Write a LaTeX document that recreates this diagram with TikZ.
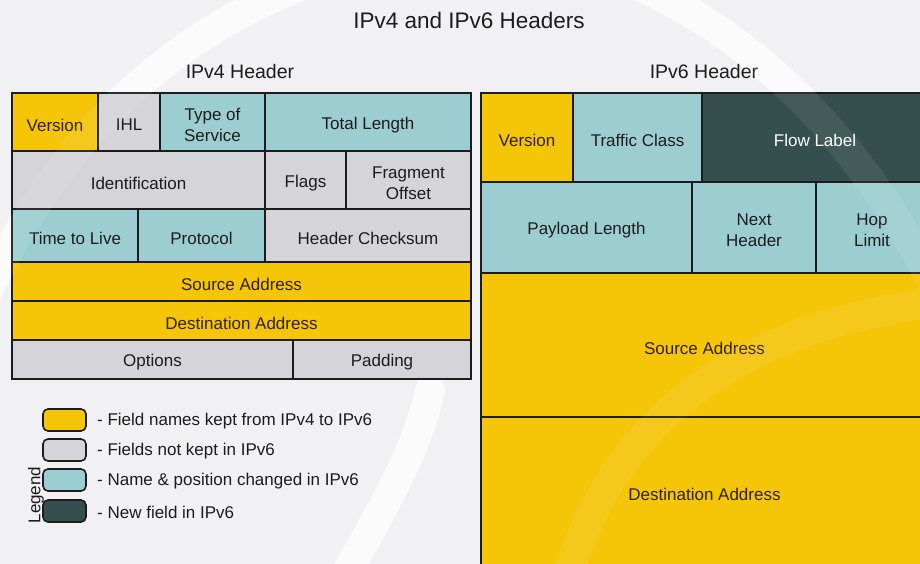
\documentclass[tikz,border=0pt]{standalone}
\usepackage{fontspec}
\setmainfont{Liberation Sans}
\definecolor{keep}{RGB}{245,197,8}
\definecolor{drop}{RGB}{213,213,217}
\definecolor{moved}{RGB}{156,206,209}
\definecolor{newf}{RGB}{52,79,77}
\definecolor{bgc}{RGB}{241,241,243}
\definecolor{ink}{RGB}{28,28,30}
\definecolor{brown}{RGB}{50,30,12}
\newcommand\fieldfont{\fontsize{17}{21}\selectfont}
% \field{name}{style}{x1}{y1}{x2}{y2}{text}: a framed cell and its caption
\newcommand\field[7]{%
  \node[cell,#2,minimum width={#5-#3},minimum height={#6-#4}] (#1)
    at ({(#3+#5)/2},{(#4+#6)/2}) {};
  \node[celltext,#2,fill=none] (#1-t) at ([yshift=-3pt]#1.center) {#7};}
\begin{document}
\begin{tikzpicture}[x=1pt,y=-1pt,
  cell/.style={draw=ink,line width=1.4pt,inner sep=0pt},
  celltext/.style={inner sep=0pt,align=center,font=\fieldfont,text=ink},
  kept/.style={fill=keep,text=brown},
  gone/.style={fill=drop},
  changed/.style={fill=moved},
  fresh/.style={fill=newf,text=white},
  swatch/.style={draw=ink,line width=1.6pt,rounded corners=5pt,
    minimum width=43pt,minimum height=22pt,inner sep=0pt},
  legtext/.style={anchor=west,inner sep=0pt,font=\fieldfont,text=ink},
  heading/.style={font=\fontsize{19.5}{23}\selectfont,text=ink},
  band/.style={white,line width=30pt,line cap=round}]
\useasboundingbox (0,0) rectangle (920,564);
\clip (0,0) rectangle (920,564);

% backdrop with soft watermark bands
\fill[bgc] (0,0) rectangle (920,564);
\begin{scope}[band,opacity=0.75]
  \draw (-30,330) .. controls (50,140) and (170,30) .. (330,-25);
  \draw (610,-25) .. controls (740,20) and (870,140) .. (950,320);
  \draw (330,600) .. controls (390,500) and (420,440) .. (430,390);
\end{scope}

% titles
\node[font=\fontsize{22.5}{26}\selectfont,text=ink] (title) at (469,20) {IPv4 and IPv6 Headers};
\node[heading] (v4head) at (240,72) {IPv4 Header};
\node[heading] (v6head) at (704,72) {IPv6 Header};

% IPv4 header fields
\field{v4ver}{kept}{12}{93}{98}{151}{Version}
\field{v4ihl}{gone}{98}{93}{160}{151}{IHL}
\field{v4tos}{changed}{160}{93}{265}{151}{Type of\\Service}
\field{v4len}{changed}{265}{93}{471}{151}{Total Length}
\field{v4id}{gone}{12}{151}{265}{209}{Identification}
\field{v4flags}{gone}{265}{151}{346}{209}{Flags}
\field{v4frag}{gone}{346}{151}{471}{209}{Fragment\\Offset}
\field{v4ttl}{changed}{12}{209}{138}{262}{Time to Live}
\field{v4proto}{changed}{138}{209}{265}{262}{Protocol}
\field{v4cks}{gone}{265}{209}{471}{262}{Header Checksum}
\field{v4src}{kept}{12}{262}{471}{301}{Source Address}
\field{v4dst}{kept}{12}{301}{471}{340}{Destination Address}
\field{v4opt}{gone}{12}{340}{293}{379}{Options}
\field{v4pad}{gone}{293}{340}{471}{379}{Padding}

% IPv6 header fields
\field{v6ver}{kept}{481}{93}{573}{182}{Version}
\field{v6tc}{changed}{573}{93}{702}{182}{Traffic Class}
\field{v6flow}{fresh}{702}{93}{928}{182}{Flow Label}
\field{v6pay}{changed}{481}{182}{692}{273}{Payload Length}
\field{v6next}{changed}{692}{182}{816}{273}{Next\\Header}
\field{v6hop}{changed}{816}{182}{928}{273}{Hop\\Limit}
\field{v6src}{kept}{481}{273}{928}{417}{Source Address}
\field{v6dst}{kept}{481}{417}{928}{565}{Destination Address}

% watermark showing faintly through the fields
\begin{scope}[band,opacity=0.08]
  \draw (-30,330) .. controls (50,140) and (170,30) .. (330,-25);
  \draw (610,-25) .. controls (740,20) and (870,140) .. (950,320);
  \draw (560,600) .. controls (600,450) and (700,330) .. (950,300);
\end{scope}

% legend
\node[swatch,fill=keep]  (lg1) at (64.5,420) {};
\node[swatch,fill=drop]  (lg2) at (64.5,450) {};
\node[swatch,fill=moved] (lg3) at (64.5,480) {};
\node[swatch,fill=newf]  (lg4) at (64.5,511) {};
\node[legtext] (lt1) at (97,421) {- Field names kept from IPv4 to IPv6};
\node[legtext] (lt2) at (97,451) {- Fields not kept in IPv6};
\node[legtext] (lt3) at (97,481) {- Name \& position changed in IPv6};
\node[legtext] (lt4) at (97,512) {- New field in IPv6};
\node[rotate=90,font=\fieldfont,text=ink,inner sep=0pt] (legend) at (36,495) {Legend};
\end{tikzpicture}
\end{document}
